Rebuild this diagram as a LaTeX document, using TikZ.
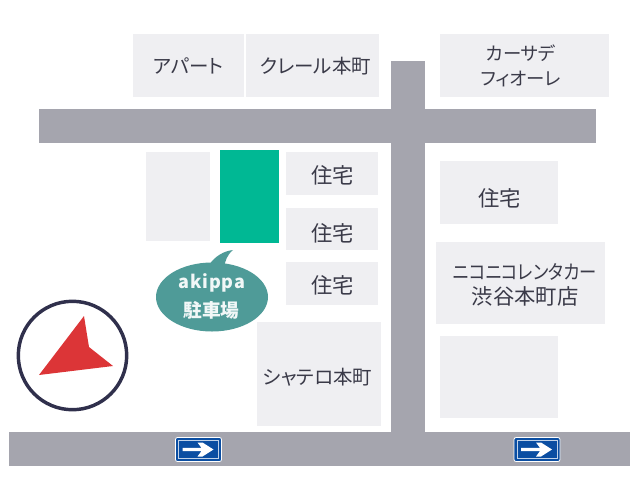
\documentclass[tikz,border=0pt]{standalone}
\usepackage{fontspec}
\setmainfont{Noto Sans CJK JP}[RawFeature=+palt]
\newfontfamily\akifont{Noto Sans CJK JP}[LetterSpace=4]
\definecolor{bldgrey}{HTML}{EFEFF2}
\definecolor{roadgrey}{HTML}{A5A5AE}
\definecolor{lotgreen}{HTML}{00B894}
\definecolor{bubbleteal}{HTML}{4F9B98}
\definecolor{inkdark}{HTML}{3A3A48}
\definecolor{ringnavy}{HTML}{30304C}
\definecolor{pinred}{HTML}{DC3537}
\definecolor{signblue}{HTML}{0B4EA2}
\newcommand{\kanjisize}{\fontsize{16pt}{18.8pt}\selectfont}
\newcommand{\kanasize}{\fontsize{13.8pt}{18.8pt}\selectfont}
\tikzset{
  every node/.style={inner sep=0pt,outer sep=0pt},
  box/.style args={#1x#2}{rectangle,minimum width=#1*0.75pt,minimum height=#2*0.75pt},
  bld/.style={fill=bldgrey},
  lbl/.style={text=inkdark,font=\fontsize{14.6pt}{18.8pt}\selectfont,align=center},
  lblk/.style={lbl,font=\kanjisize},
  road/.style={fill=roadgrey},
  lot/.style={fill=lotgreen},
  sign/.style={rectangle,rounded corners=1.5pt,fill=signblue,draw=white,line width=0.6pt,minimum width=46*0.75pt,minimum height=24*0.75pt},
  signin/.style={rectangle,draw=white!75!signblue,line width=0.4pt,fill=none,minimum width=40*0.75pt,minimum height=18*0.75pt},
}
\newcommand{\signarrow}[1]{%
  \fill[white] ([shift={(-16,-1.6)}]#1.center) -- ([shift={(3,-1.6)}]#1.center) -- ([shift={(-1,-7)}]#1.center) -- ([shift={(4,-7)}]#1.center) -- ([shift={(15,0)}]#1.center) -- ([shift={(4,7)}]#1.center) -- ([shift={(-1,7)}]#1.center) -- ([shift={(3,1.6)}]#1.center) -- ([shift={(-16,1.6)}]#1.center) -- cycle;}
\begin{document}
\begin{tikzpicture}[x=0.75pt,y=-0.75pt]
\useasboundingbox (0,0) rectangle (640,480);
% roads
\node[road,box=557x34] (roadtop) at (317.5,126) {};
\node[road,box=621x34] (roadbottom) at (319.5,449) {};
\node[road,box=34x371] (roadvert) at (408,246.5) {};
% buildings
\node[bld,box=111x63] (apart) at (188.5,65.5) {};
\node[bld,box=133x63] (creel) at (312.5,65.5) {};
\node[bld,box=169x63] (carsa) at (524.5,65.5) {};
\node[bld,box=64x89] (blank1) at (178,196.5) {};
\node[lot,box=59x93] (lot) at (249.5,196.5) {};
\node[bld,box=92x43] (house1) at (332,173.5) {};
\node[bld,box=92x42] (house2) at (332,229) {};
\node[bld,box=92x43] (house3) at (332,283.5) {};
\node[bld,box=124x104] (chateau) at (319,374) {};
\node[bld,box=118x63] (house4) at (499,192.5) {};
\node[bld,box=169x82] (nico) at (520.5,283) {};
\node[bld,box=118x82] (blank2) at (499,377) {};
% labels
\node[lbl] (apartlbl) at (188.5,66) {アパート};
\node[lbl] (creellbl) at (315.5,66) {クレール本町};
\node[lbl,font=\kanasize] (carsalbl) at (521,66) {カーサデ\\フィオーレ};
\node[lblk] (house1lbl) at (332.5,175) {住宅};
\node[lblk] (house2lbl) at (332.5,233) {住宅};
\node[lblk] (house3lbl) at (332.5,285) {住宅};
\node[lbl] (chateaulbl) at (317.5,377) {シャテロ本町};
\node[lblk] (house4lbl) at (499.5,198) {住宅};
\node[lblk] (nicolbl) at (525,285) {\scalebox{0.81}[0.92]{ニコニコレンタカー}\\渋谷本町店};
% speech bubble
\fill[bubbleteal] (209,265) .. controls (215,256) and (224,251) .. (233,250) .. controls (227,255) and (225,261) .. (224,268) -- cycle;
\fill[bubbleteal] (212,297) ellipse [x radius=56,y radius=34.5];
\node[text=white!92!bubbleteal,font=\fontsize{13.5pt}{16pt}\akifont\bfseries] (akippa) at (212,283) {akippa};
\node[text=white!92!bubbleteal,font=\fontsize{14pt}{16pt}\selectfont\bfseries] (parking) at (211.5,310) {駐車場};
% compass
\draw[ringnavy,line width=2.6pt] (72.5,355.5) circle [radius=54.2];
\fill[pinred] (84,316) -- (89,347) -- (113,366) -- (39,375) -- cycle;
% one-way signs
\node[sign] (sign1) at (198.5,449.5) {};
\node[signin] (sign1in) at (198.5,449.5) {};
\signarrow{sign1}
\node[sign] (sign2) at (537,449.5) {};
\node[signin] (sign2in) at (537,449.5) {};
\signarrow{sign2}
\end{tikzpicture}
\end{document}
